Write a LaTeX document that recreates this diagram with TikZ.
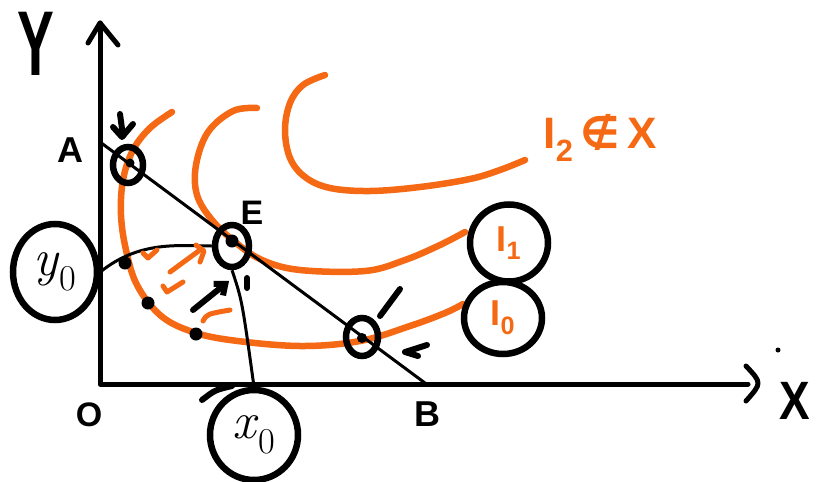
\documentclass[tikz,border=0pt]{standalone}
\usepackage{fontspec}
\setsansfont{Liberation Sans}
\newfontfamily\symfont{DejaVu Sans}
\usetikzlibrary{arrows.meta,shapes.geometric}
\definecolor{orng}{RGB}{245,105,20}
\begin{document}
\begin{tikzpicture}[x=1pt,y=-1pt,
  axisline/.style={line width=5pt,line cap=round,line join=round},
  budget/.style={line width=3pt},
  icurve/.style={orng,line width=6.5pt,line cap=round},
  omark/.style={orng,line width=5pt,line cap=round,line join=round},
  ring/.style={draw,ellipse,line width=6.5pt,inner sep=0pt},
  guide/.style={line width=3pt},
  bmark/.style={line width=6pt,line cap=round,line join=round},
  hand/.style={font=\sffamily\bfseries},
  dotp/.style={circle,fill=black,inner sep=0pt,minimum size=13pt}]
\useasboundingbox (0,0) rectangle (817,482);
% axes
\coordinate (O) at (100,384);
\coordinate (Ytip) at (100,23);
\coordinate (Xtip) at (748,384);
\draw[axisline] (Ytip) -- (O) -- (Xtip);
\draw[axisline] (88,43) -- (Ytip) -- (118,45);
\draw[axisline] (746,366) .. controls (762,383) .. (746,401);
\fill (778,350) circle (2.5pt);
% labels
\node[xscale=0.6,font=\sffamily\bfseries\fontsize{92}{92}\selectfont] (ylab) at (36,44) {Y};
\node[xscale=0.85,font=\sffamily\bfseries\fontsize{54}{54}\selectfont] (xlab) at (795,401) {X};
\node[hand,font=\sffamily\bfseries\fontsize{36}{36}\selectfont] (Alab) at (70,150) {A};
\node[hand,font=\sffamily\bfseries\fontsize{34}{34}\selectfont] (Olab) at (89,415) {O};
\node[hand,font=\sffamily\bfseries\fontsize{36}{36}\selectfont] (Blab) at (427,414) {B};
\node[hand,font=\sffamily\bfseries\fontsize{34}{34}\selectfont] (Elab) at (252,213) {E};
% indifference curves
\draw[icurve] plot[smooth,tension=0.6] coordinates {(172,112)(150,128)(133,150)(123,180)(121,215)(126,250)(137,285)(160,315)(190,331)(230,340)(300,346)(360,341)(410,326)(445,313)(463,304)};
\draw[icurve] plot[smooth,tension=0.6] coordinates {(257,108)(233,111)(208,132)(196,165)(197,195)(212,220)(235,242)(262,260)(300,270)(365,271)(405,260)(440,245)(465,232)};
\draw[icurve] plot[smooth,tension=0.6] coordinates {(325,75)(303,85)(290,103)(285,130)(290,158)(305,177)(330,188)(370,191)(420,187)(470,179)(500,170)(525,160)};
\node[orng,font=\sffamily\bfseries\fontsize{44}{44}\selectfont,anchor=west] (I2lab) at (540,138) {I\textsubscript{2}\,{\symfont ∉}\,X};
% budget line
\coordinate (A) at (100,142);
\coordinate (B) at (425,383);
\draw[budget] (A) -- (B);
% points and rings
\node[ring,minimum width=30pt,minimum height=36pt] (Ac) at (128,165) {};
\node[dotp,minimum size=9pt] (Ad) at (130,163) {};
\node[ring,minimum width=34pt,minimum height=42pt] (Ec) at (232,246) {};
\node[dotp] (Ed) at (232,241) {};
\node[ring,minimum width=32pt,minimum height=38pt] (Sc) at (362,337) {};
\node[dotp,minimum size=10pt] (Sd) at (362,338) {};
\node[ring,minimum width=84pt,minimum height=96pt,font=\fontsize{52}{52}\selectfont] (y0) at (55,272) {\textit{y}\textsubscript{0}};
\node[ring,minimum width=88pt,minimum height=90pt,font=\fontsize{52}{52}\selectfont] (x0) at (254,435) {\textit{x}\textsubscript{0}};
\node[ring,minimum width=78pt,minimum height=77pt,text=orng,font=\sffamily\bfseries\fontsize{36}{36}\selectfont] (I1c) at (509,243) {I\textsubscript{1}};
\node[ring,minimum width=78pt,minimum height=72pt,text=orng,font=\sffamily\bfseries\fontsize{36}{36}\selectfont] (I0c) at (503,318) {I\textsubscript{0}};
% guide lines to E
\draw[guide] (y0.east) .. controls (140,240) and (180,246) .. (Ec.west);
\draw[guide] (Ec.south) .. controls (242,300) .. (x0.north);
\draw[bmark] (202,400) .. controls (215,390) .. (232,386);
% inner dots
\node[dotp] (d1) at (125,263) {};
\node[dotp] (d2) at (148,303) {};
\node[dotp] (d3) at (196,334) {};
% arrow towards E
\draw[bmark,-{Straight Barb[length=9pt,width=15pt]}] (193,310) -- (229,281);
% small orange marks
\draw[omark] (143,253) -- (148,258) -- (157,250);
\draw[omark] (170,272) -- (200,250);
\draw[omark] (196,245) -- (204,251) -- (200,262);
\draw[omark] (163,286) -- (167,292) -- (183,282);
\draw[omark] (203,321) .. controls (207,314) .. (230,310);
% hand marks
\draw[bmark] (120,114) -- (123,136);
\draw[bmark] (113,127) -- (122,137) -- (133,124);
\draw[bmark] (400,289) -- (380,316);
\draw[bmark] (427,345) -- (405,352) -- (418,356);
\draw[bmark] (247,278) -- (247,288);
\end{tikzpicture}
\end{document}
